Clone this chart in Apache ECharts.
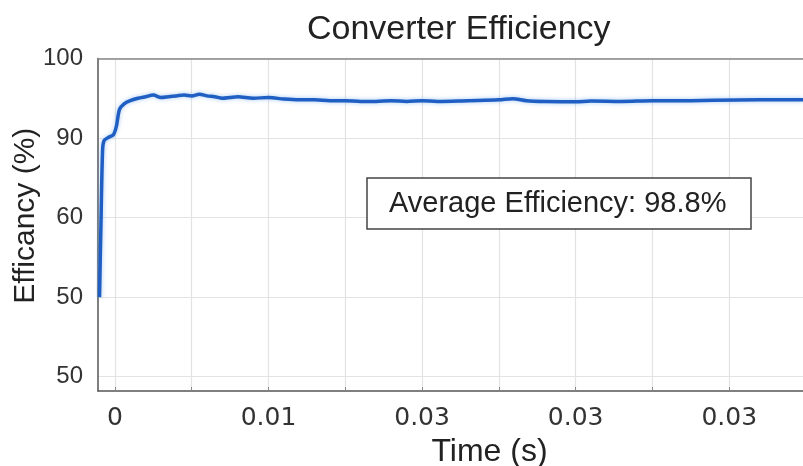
<!DOCTYPE html>
<html>
<head>
<meta charset="utf-8">
<script src="https://cdn.jsdelivr.net/npm/echarts@6/dist/echarts.min.js"></script>
<style>
  html, body { margin: 0; padding: 0; background: #fff; }
  #chart { width: 803px; height: 466px; }
</style>
</head>
<body>
<div id="chart"></div>
<script>
// time (s) and efficiency
var times = [-0.0010, -0.0009, -0.0008, -0.0007, -0.0004, -0.0001, 0.0001, 0.0003, 0.0006, 0.0010,
  0.0015, 0.0020, 0.0025, 0.0030, 0.0035, 0.0040, 0.0045, 0.0050, 0.0055, 0.0060,
  0.0065, 0.0070, 0.0075, 0.0080, 0.0090, 0.0100, 0.0110, 0.0120, 0.0130, 0.0140,
  0.0150, 0.0160, 0.0170, 0.0180, 0.0190, 0.0200, 0.0210, 0.0230, 0.0250, 0.0259,
  0.0268, 0.0280, 0.0300, 0.0310, 0.0330, 0.0350, 0.0370, 0.0390, 0.0420, 0.0448]
var efficiency = [70.0, 80.0, 88.5, 89.7, 90.1, 90.4, 91.5, 93.6, 94.3, 94.7,
  95.0, 95.2, 95.4, 95.1, 95.2, 95.3, 95.4, 95.3, 95.5, 95.3,
  95.2, 95.0, 95.1, 95.2, 95.0, 95.1, 94.9, 94.8, 94.8, 94.7,
  94.7, 94.6, 94.6, 94.7, 94.6, 94.7, 94.6, 94.7, 94.8, 94.95,
  94.7, 94.6, 94.55, 94.65, 94.6, 94.7, 94.7, 94.75, 94.8, 94.8]

// tick positions and the labels printed at them
var xGridValues = [0, 0.005, 0.01, 0.015, 0.02, 0.025, 0.03, 0.035, 0.04]
var xLabelValues = [0, 0.01, 0.02, 0.03, 0.04]
var xLabels = ['0', '0.01', '0.03', '0.03', '0.03']
var yGridValues = [60, 70, 80, 90, 100]
var yLabels = ['50', '50', '60', '90', '100']
var annotation = 'Average Efficiency: 98.8%'

var chart = echarts.init(document.getElementById('chart'))

var seriesData = times.map(function (t, i) { return [t, efficiency[i]] })

chart.setOption({
  animation: false,
  title: [
    {
      text: 'Converter Efficiency',
      left: 302,
      top: 8,
      textStyle: { fontFamily: 'Liberation Sans', fontSize: 34, fontWeight: 'normal', color: '#222' }
    },
    {
      text: annotation,
      left: 367,
      top: 178,
      padding: [11, 25, 11, 22],
      borderColor: '#444',
      borderWidth: 1.5,
      backgroundColor: '#fff',
      textStyle: { fontFamily: 'Liberation Sans', fontSize: 29, fontWeight: 'normal', color: '#222' }
    }
  ],
  grid: { left: 98, right: 0, top: 58.5, bottom: 75, outerBoundsMode: 'none' },
  xAxis: [
    {
      type: 'value',
      min: -0.0011,
      max: 0.0448,
      name: 'Time (s)',
      nameLocation: 'middle',
      nameGap: 42,
      nameTextStyle: { fontFamily: 'Liberation Sans', fontSize: 32, color: '#222', padding: [0, 0, 0, 78] },
      axisLine: { show: true, onZero: false, lineStyle: { color: '#555', width: 1.5 } },
      axisTick: { show: true, inside: true, length: 4, customValues: xGridValues, lineStyle: { color: '#888' } },
      axisLabel: {
        customValues: xLabelValues,
        margin: 15,
        fontFamily: 'DejaVu Sans',
        fontSize: 25,
        color: '#333',
        formatter: function (v) { return xLabels[Math.round(v / 0.01)] }
      },
      splitLine: { show: true, lineStyle: { color: '#e3e3e3', width: 1.2 } }
    },
    {
      type: 'value',
      position: 'top',
      min: -0.0011,
      max: 0.0448,
      axisLine: { show: true, onZero: false, lineStyle: { color: '#888', width: 1.5 } },
      axisTick: { show: false },
      axisLabel: { show: false },
      splitLine: { show: false }
    }
  ],
  yAxis: {
    type: 'value',
    min: 58.2,
    max: 100,
    name: 'Efficancy (%)',
    nameLocation: 'middle',
    nameGap: 57,
    nameMoveOverlap: false,
    nameTextStyle: { fontFamily: 'Liberation Sans', fontSize: 30, color: '#222', padding: [0, 0, 0, 18] },
    axisLine: { show: true, onZero: false, lineStyle: { color: '#555', width: 1.5 } },
    axisTick: { show: false, customValues: yGridValues },
    axisLabel: {
      customValues: yGridValues,
      margin: 15,
      fontFamily: 'Liberation Sans',
      fontSize: 24,
      color: '#333',
      formatter: function (v) { return yLabels[Math.round((v - 60) / 10)] }
    },
    splitLine: { show: true, lineStyle: { color: '#e3e3e3', width: 1.2 } }
  },
  series: [
    {
      type: 'line',
      data: seriesData,
      smooth: 0.3,
      showSymbol: false,
      lineStyle: { color: '#1f5fc4', width: 3.5, shadowColor: 'rgba(80,150,230,0.5)', shadowBlur: 4 }
    }
  ]
})
</script>
</body>
</html>
